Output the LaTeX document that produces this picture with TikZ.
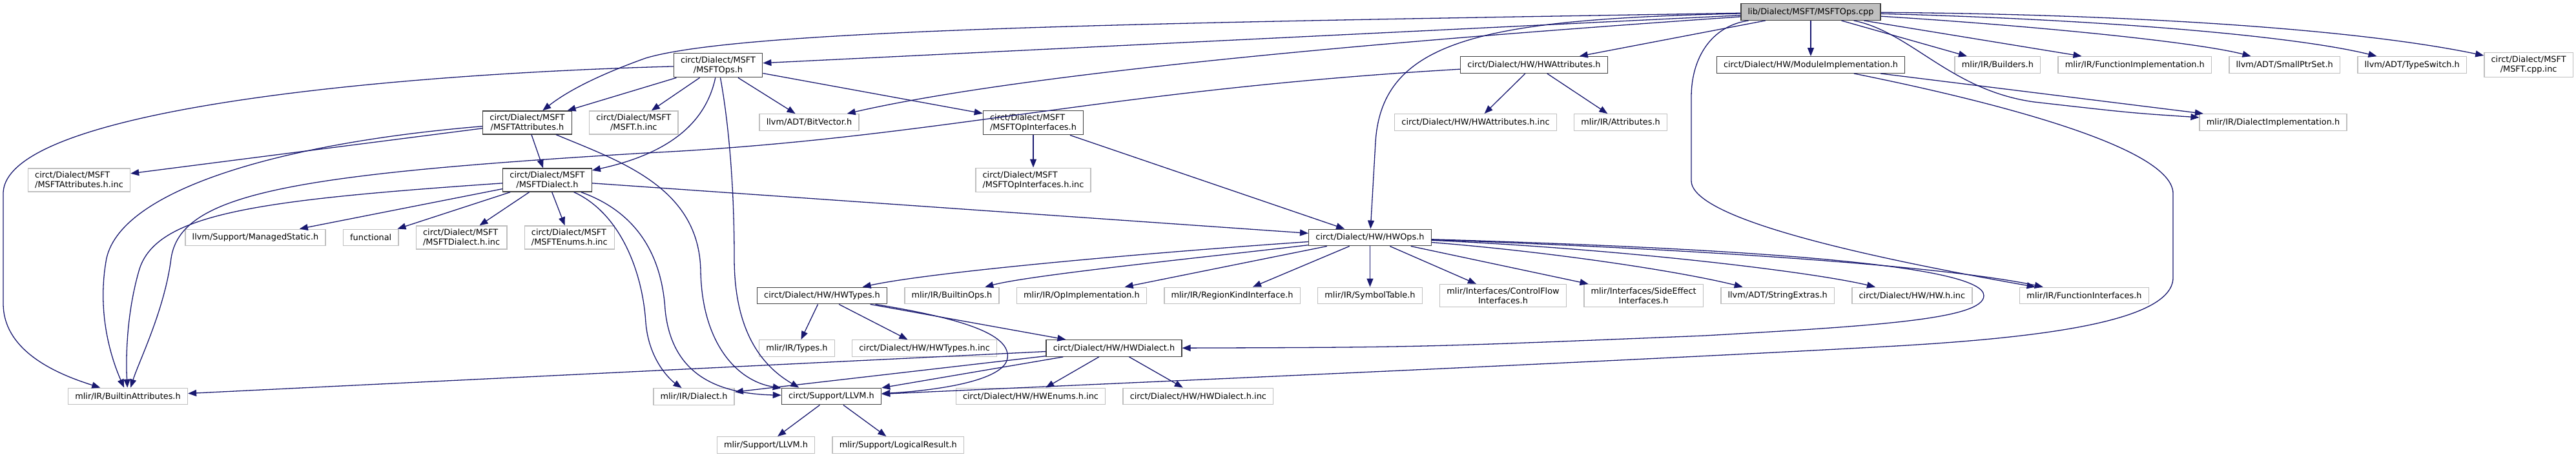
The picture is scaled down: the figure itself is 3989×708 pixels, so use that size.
\documentclass[tikz,border=0pt]{standalone}
\usepackage{fontspec}
\setmainfont{DejaVu Sans}
\usetikzlibrary{arrows.meta,positioning}
\definecolor{edgeblue}{HTML}{191970}

\begin{document}
\begin{tikzpicture}[
  x=1pt, y=-1pt,
  hdr/.style={draw=black!75, line width=1.4pt, fill=white, align=center, inner xsep=10.7pt, inner ysep=5pt, minimum height=25.5pt, font=\fontsize{12.9pt}{15pt}\selectfont},
  ext/.style={hdr, draw=black!25},
  src/.style={hdr, fill=black!25},
  arr/.style={-{Triangle[length=13pt,width=10pt]}, draw=edgeblue, line width=1.3pt}
]
\useasboundingbox (0,0) rectangle (3989,708);

\node[src] (root) at (2804,18.5) {lib/Dialect/MSFT/MSFTOps.cpp};

\node[hdr] (msftops) at (1112,101) {circt/Dialect/MSFT\\/MSFTOps.h};
\node[hdr] (hwattr) at (2375.5,100.5) {circt/Dialect/HW/HWAttributes.h};
\node[hdr] (modimpl) at (2804,100.5) {circt/Dialect/HW/ModuleImplementation.h};
\node[ext, right=76pt of modimpl] (builders) {mlir/IR/Builders.h};
\node[ext, right=26pt of builders] (funcimpl) {mlir/IR/FunctionImplementation.h};
\node[ext, right=26pt of funcimpl] (smallptr) {llvm/ADT/SmallPtrSet.h};
\node[ext, right=26pt of smallptr] (typeswitch) {llvm/ADT/TypeSwitch.h};
\node[ext, right=26pt of typeswitch] (msftcppinc) {circt/Dialect/MSFT\\/MSFT.cpp.inc};

\node[hdr] (msftattr) at (816.5,190) {circt/Dialect/MSFT\\/MSFTAttributes.h};
\node[ext, right=26pt of msftattr] (msfthinc) {circt/Dialect/MSFT\\/MSFT.h.inc};
\node[ext] (bitvec) at (1253,189.5) {llvm/ADT/BitVector.h};
\node[hdr, align=left] (msftopif) at (1600,190) {circt/Dialect/MSFT\\/MSFTOpInterfaces.h};
\node[ext] (hwattrinc) at (2285,189.5) {circt/Dialect/HW/HWAttributes.h.inc};
\node[ext, right=26pt of hwattrinc] (attrs) {mlir/IR/Attributes.h};
\node[ext] (dialimpl) at (3520,189.5) {mlir/IR/DialectImplementation.h};

\node[ext, align=left] (msftattrinc) at (122.5,279) {circt/Dialect/MSFT\\/MSFTAttributes.h.inc};
\node[hdr] (msftdialect) at (847.5,279) {circt/Dialect/MSFT\\/MSFTDialect.h};
\node[ext, align=left] (msftopifinc) at (1600,279) {circt/Dialect/MSFT\\/MSFTOpInterfaces.h.inc};

\node[ext] (managed) at (395.5,368) {llvm/Support/ManagedStatic.h};
\node[ext, right=26pt of managed] (functional) {functional};
\node[ext, align=left, right=26pt of functional] (msftdialinc) {circt/Dialect/MSFT\\/MSFTDialect.h.inc};
\node[ext, align=left, right=26pt of msftdialinc] (msftenums) {circt/Dialect/MSFT\\/MSFTEnums.h.inc};
\node[hdr] (hwops) at (2121.5,368) {circt/Dialect/HW/HWOps.h};

\node[ext] (symtab) at (2121.5,458) {mlir/IR/SymbolTable.h};
\node[ext, left=26pt of symtab] (regionkind) {mlir/IR/RegionKindInterface.h};
\node[ext, left=26pt of regionkind] (opimpl) {mlir/IR/OpImplementation.h};
\node[ext, left=26pt of opimpl] (builtinops) {mlir/IR/BuiltinOps.h};
\node[hdr, left=26pt of builtinops] (hwtypes) {circt/Dialect/HW/HWTypes.h};
\node[ext, right=26pt of symtab] (cfif) {mlir/Interfaces/ControlFlow\\Interfaces.h};
\node[ext, right=26pt of cfif] (seif) {mlir/Interfaces/SideEffect\\Interfaces.h};
\node[ext, right=26pt of seif] (strext) {llvm/ADT/StringExtras.h};
\node[ext, right=26pt of strext] (hwinc) {circt/Dialect/HW/HW.h.inc};
\node[ext] (funcif) at (3227.5,458) {mlir/IR/FunctionInterfaces.h};

\node[ext] (irtypes) at (1234,539.5) {mlir/IR/Types.h};
\node[ext, right=26pt of irtypes] (hwtypesinc) {circt/Dialect/HW/HWTypes.h.inc};
\node[hdr] (hwdialect) at (1725,539.5) {circt/Dialect/HW/HWDialect.h};

\node[ext] (builtinattr) at (198,614) {mlir/IR/BuiltinAttributes.h};
\node[ext] (irdialect) at (1074.5,614.5) {mlir/IR/Dialect.h};
\node[hdr] (llvmh) at (1287.5,614) {circt/Support/LLVM.h};
\node[ext] (hwenums) at (1596,614) {circt/Dialect/HW/HWEnums.h.inc};
\node[ext, right=26pt of hwenums] (hwdialinc) {circt/Dialect/HW/HWDialect.h.inc};

\node[ext] (mlirllvm) at (1186,689.5) {mlir/Support/LLVM.h};
\node[ext, right=26pt of mlirllvm] (logres) {mlir/Support/LogicalResult.h};

\draw[arr] (root) .. controls (1800,35) and (1150,45) .. (1000,90) .. controls (930,115) and (880,140) .. (msftattr);
\draw[arr] (root) -- (msftops);
\draw[arr] (root) .. controls (2200,60) and (1600,110) .. (bitvec);
\draw[arr] (root) -- (hwattr);
\draw[arr] (root) -- (modimpl);
\draw[arr] (root) .. controls (2300,30) and (2140,60) .. (2130,220) -- (hwops);
\draw[arr] (root) -- (builders);
\draw[arr] (root) -- (funcimpl);
\draw[arr] (root) .. controls (3150,40) and (3400,65) .. (smallptr);
\draw[arr] (root) .. controls (3250,30) and (3550,55) .. (typeswitch);
\draw[arr] (root) .. controls (3300,22) and (3650,45) .. (msftcppinc);
\draw[arr] (root) .. controls (2960,50) and (3020,140) .. (3150,158) .. controls (3300,175) .. (dialimpl);
\draw[arr] (root) .. controls (2650,40) and (2619,90) .. (2619,150) -- (2619,280) .. controls (2619,340) and (2900,400) .. (funcif);

\draw[arr] (msftops) -- (msftattr);
\draw[arr] (msftops) -- (msfthinc);
\draw[arr] (msftops) -- (bitvec);
\draw[arr] (msftops) -- (msftopif);
\draw[arr] (msftops) .. controls (1095,180) and (1050,235) .. (msftdialect);
\draw[arr] (msftops) .. controls (1130,200) and (1137,300) .. (1137,400) .. controls (1137,520) and (1185,570) .. (llvmh.165);
\draw[arr] (msftops) .. controls (600,115) and (5,170) .. (5,300) -- (5,470) .. controls (5,545) and (90,580) .. (builtinattr);

\draw[arr] (hwattr) -- (hwattrinc);
\draw[arr] (hwattr) -- (attrs);
\draw[arr] (hwattr) .. controls (1700,140) and (1450,215) .. (1000,237) .. controls (450,270) and (280,300) .. (265,400) .. controls (255,480) and (215,560) .. (builtinattr);

\draw[arr] (modimpl) -- (dialimpl);
\draw[arr] (modimpl) .. controls (3100,160) and (3365,230) .. (3365,300) -- (3365,430) .. controls (3365,500) and (3150,525) .. (2900,538) .. controls (2400,565) and (1700,595) .. (llvmh);

\draw[arr] (msftattr) -- (msftattrinc);
\draw[arr] (msftattr) -- (msftdialect);
\draw[arr] (msftattr) .. controls (450,220) and (190,290) .. (165,400) .. controls (150,480) and (170,550) .. (builtinattr);
\draw[arr] (msftattr) .. controls (960,250) and (1083,290) .. (1085,420) .. controls (1087,530) and (1140,590) .. (llvmh);

\draw[arr] (msftopif) -- (msftopifinc);
\draw[arr] (msftopif) -- (hwops);

\draw[arr] (msftdialect) -- (managed);
\draw[arr] (msftdialect) -- (functional);
\draw[arr] (msftdialect) -- (msftdialinc);
\draw[arr] (msftdialect) -- (msftenums);
\draw[arr] (msftdialect) -- (hwops);
\draw[arr] (msftdialect) .. controls (400,310) and (240,330) .. (215,420) .. controls (195,490) and (195,560) .. (builtinattr);
\draw[arr] (msftdialect) .. controls (960,330) and (995,420) .. (1000,500) .. controls (1005,560) and (1040,590) .. (irdialect);
\draw[arr] (msftdialect) .. controls (990,330) and (1025,400) .. (1030,480) .. controls (1040,580) and (1110,610) .. (llvmh);

\draw[arr] (hwops) .. controls (1800,390) and (1450,420) .. (hwtypes);
\draw[arr] (hwops) .. controls (1900,395) and (1600,425) .. (builtinops);
\draw[arr] (hwops) -- (opimpl);
\draw[arr] (hwops) -- (regionkind);
\draw[arr] (hwops) -- (symtab);
\draw[arr] (hwops) -- (cfif);
\draw[arr] (hwops) -- (seif);
\draw[arr] (hwops) .. controls (2400,390) and (2600,420) .. (strext);
\draw[arr] (hwops) .. controls (2500,385) and (2800,420) .. (hwinc);
\draw[arr] (hwops) .. controls (2600,385) and (3000,410) .. (funcif);
\draw[arr] (hwops) .. controls (2700,385) and (3072,410) .. (3072,458) .. controls (3072,495) and (2900,505) .. (2640,520) .. controls (2200,538) .. (hwdialect);

\draw[arr] (hwtypes) -- (irtypes);
\draw[arr] (hwtypes) -- (hwtypesinc);
\draw[arr] (hwtypes) -- (hwdialect);
\draw[arr] (hwtypes) .. controls (1500,495) and (1565,520) .. (1560,555) .. controls (1555,590) and (1450,605) .. (llvmh);

\draw[arr] (hwdialect) -- (builtinattr);
\draw[arr] (hwdialect) -- (irdialect);
\draw[arr] (hwdialect) -- (llvmh);
\draw[arr] (hwdialect) -- (hwenums);
\draw[arr] (hwdialect) -- (hwdialinc);

\draw[arr] (llvmh) -- (mlirllvm);
\draw[arr] (llvmh) -- (logres);

\end{tikzpicture}
\end{document}
